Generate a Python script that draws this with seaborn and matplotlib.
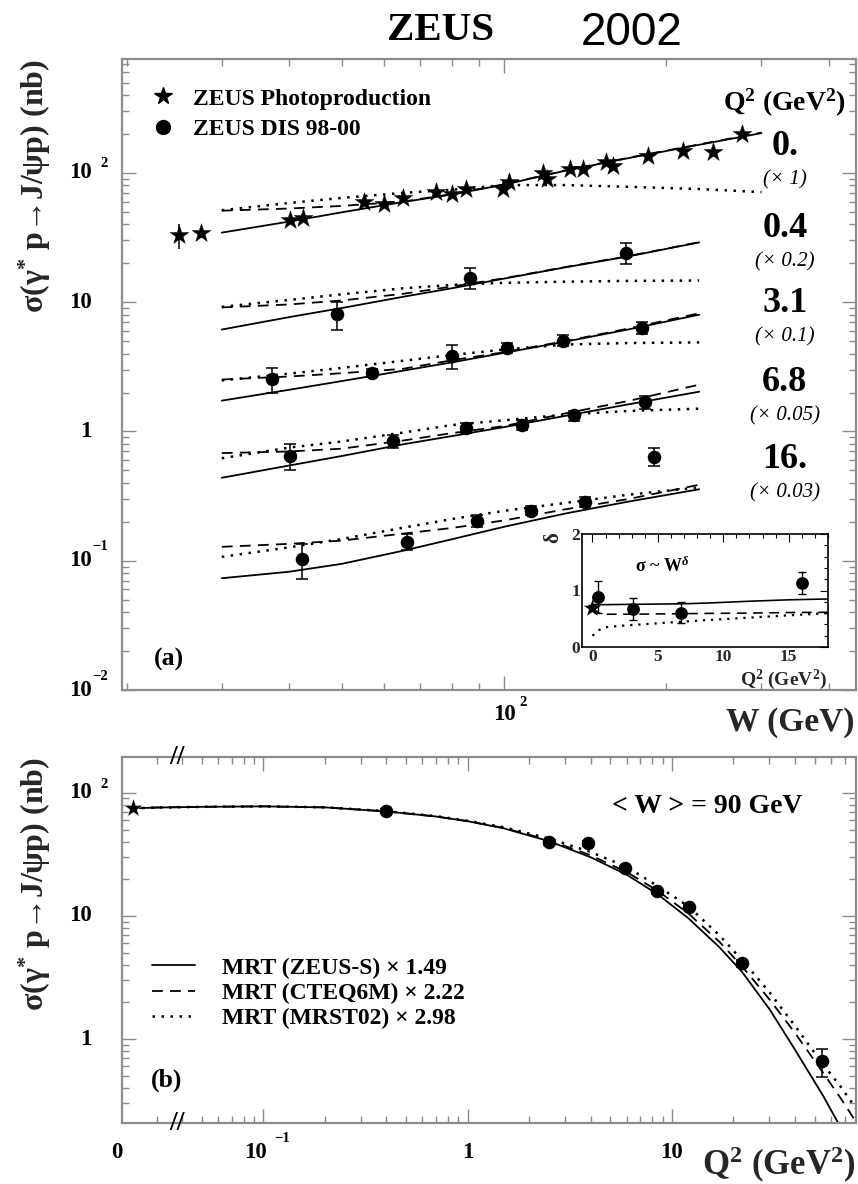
import numpy as np
import pandas as pd
import matplotlib
matplotlib.use("Agg")
import matplotlib.pyplot as plt
import seaborn as sns
from matplotlib.lines import Line2D
from matplotlib.ticker import LogLocator, NullFormatter, FixedLocator, MultipleLocator

# ------------------------------------------------------------------ data
# gamma p -> J/psi p photoproduction (Q^2 = 0); W in GeV, sigma in nb
W_PHP = [25.0, 27.5, 40.2, 42.5, 55.1, 60.0, 65.1, 74.8, 80.0, 85.1, 99.7, 102.3,
         118.2, 120.0, 132.5, 139.9, 154.5, 159.2, 184.8, 214.7, 244.2, 275.6]
SIG_PHP = [32.9, 34.5, 43.0, 44.6, 59.0, 57.2, 63.7, 71.3, 69.0, 74.8, 75.7, 85.2,
           98.9, 89.4, 106.8, 106.8, 120.4, 113.3, 134.0, 146.5, 145.6, 199.5]
ERR_PHP = [7.0, 3.0, 2.5, 2.5, 3.0, 3.0, 3.0, 3.5, 3.5, 3.5, 4.0, 4.0,
           5.0, 5.0, 5.0, 5.0, 6.0, 6.0, 7.0, 8.0, 8.0, 12.0]

# gamma* p -> J/psi p (DIS 98-00), unscaled sigma in nb per Q^2 bin
W_Q2_04 = [49.1, 86.5, 168.2]
SIG_Q2_04 = [40.2, 77.5, 121.0]
ERR_Q2_04 = [10.0, 14.0, 22.0]

W_Q2_31 = [37.1, 57.0, 80.0, 101.2, 128.5, 179.9]
SIG_Q2_31 = [25.5, 28.4, 38.6, 44.3, 50.5, 63.3]
ERR_Q2_31 = [5.7, 2.0, 8.0, 4.0, 5.0, 7.0]

W_Q2_68 = [40.2, 62.3, 84.9, 107.8, 134.8, 182.3]
SIG_Q2_68 = [13.0, 16.9, 21.4, 22.6, 26.6, 33.6]
ERR_Q2_68 = [3.0, 2.0, 2.0, 2.0, 2.4, 4.0]

W_Q2_16 = [42.3, 66.2, 89.0, 112.0, 141.0, 189.3]
SIG_Q2_16 = [3.43, 4.67, 6.80, 8.13, 9.57, 21.3]
ERR_Q2_16 = [1.03, 0.67, 0.67, 0.67, 0.83, 3.3]

Q2_LABELS = ["0.", "0.4", "3.1", "6.8", "16."]
SCALES = [1, 0.2, 0.1, 0.05, 0.03]

# MRT predictions versus W (unscaled, nb)
W_MODEL = [30, 40, 50, 65, 80, 100, 130, 170, 230]
W_MODEL_PHP = [30, 40, 50, 65, 80, 100, 130, 170, 230, 300]
ZEUSS_Q2_0 = [34.5, 42.0, 49.5, 59.5, 68.0, 81.0, 104.0, 130.0, 165.0, 203.0]
CTEQ_Q2_0 = [51.0, 53.0, 55.5, 60.0, 68.5, 81.5, 104.5, 131.0, 166.0, 205.0]
MRST_Q2_0 = [51.4, 58.5, 64.0, 70.0, 74.0, 80.5, 80.5, 78.0, 75.0, 71.0]

ZEUSS_Q2_04 = [30.7, 38.3, 45.0, 55.0, 64.0, 76.0, 93.0, 113.0, 145.0]
CTEQ_Q2_04 = [45.5, 48.0, 51.5, 58.0, 66.0, 76.5, 93.5, 113.5, 145.5]
MRST_Q2_04 = [46.0, 52.0, 57.5, 64.0, 68.0, 70.5, 72.0, 73.0, 73.5]

ZEUSS_Q2_31 = [17.3, 21.0, 24.5, 29.5, 34.2, 40.5, 49.5, 61.5, 80.0]
CTEQ_Q2_31 = [25.2, 26.6, 28.2, 30.5, 35.5, 41.0, 50.0, 62.5, 82.0]
MRST_Q2_31 = [24.8, 28.0, 31.0, 35.2, 39.0, 43.0, 47.0, 48.3, 48.8]

ZEUSS_Q2_68 = [8.76, 10.9, 12.9, 15.9, 18.4, 21.6, 26.4, 32.4, 40.6]
CTEQ_Q2_68 = [13.6, 14.0, 14.7, 17.0, 19.4, 22.0, 27.6, 34.4, 46.0]
MRST_Q2_68 = [12.4, 15.0, 16.7, 19.6, 22.4, 24.4, 27.0, 28.8, 30.0]

ZEUSS_Q2_16 = [2.44, 2.74, 3.15, 3.98, 4.88, 6.10, 7.73, 9.55, 11.9]
CTEQ_Q2_16 = [4.27, 4.50, 4.77, 5.40, 5.97, 6.83, 8.33, 10.0, 12.9]
MRST_Q2_16 = [3.57, 4.23, 4.90, 6.00, 7.00, 8.10, 9.33, 10.8, 12.3]

# fitted slope delta of sigma ~ W^delta
Q2_DELTA = [0.0, 0.4, 3.1, 6.8, 16.0]
DELTA = [0.69, 0.88, 0.67, 0.61, 1.13]
DELTA_ERR = [0.05, 0.28, 0.19, 0.19, 0.19]
Q2_DELTA_MODEL = [0.0, 0.5, 1.0, 3.0, 5.0, 7.0, 9.0, 12.0, 15.0, 18.0]
DELTA_ZEUSS = [0.75, 0.75, 0.75, 0.755, 0.76, 0.765, 0.78, 0.81, 0.835, 0.85]
DELTA_CTEQ = [0.69, 0.60, 0.58, 0.58, 0.585, 0.59, 0.595, 0.60, 0.61, 0.615]
DELTA_MRST = [0.20, 0.30, 0.35, 0.39, 0.42, 0.45, 0.48, 0.52, 0.56, 0.60]

# Q^2 dependence at <W> = 90 GeV
SIG_PHP_90 = 74.7
Q2_DIS_90 = [0.40, 2.5, 3.89, 5.88, 8.41, 12.1, 22.1, 54.2]
SIG_DIS_90 = [71.0, 39.6, 38.8, 24.3, 15.9, 11.7, 4.12, 0.664]
ERR_DIS_90 = [3.0, 2.0, 2.0, 1.2, 0.8, 0.6, 0.3, 0.17]
Q2_MODEL = [0.0, 0.03, 0.05, 0.1, 0.2, 0.4, 0.7, 1.0, 1.5, 2.5, 4.0, 6.0, 8.5,
            12.0, 17.0, 22.0, 30.0, 40.0, 55.0, 67.0, 80.0]
ZEUSS_Q2 = [74.7, 75.8, 76.8, 77.5, 76.0, 70.5, 64.1, 58.7, 51.4, 40.4, 29.9, 21.6,
            15.0, 9.6, 5.6, 3.52, 1.75, 0.82, 0.345, 0.191, 0.108]
CTEQ_Q2 = [74.7, 75.8, 76.8, 77.5, 76.0, 70.5, 64.1, 58.7, 51.8, 41.2, 31.0, 22.7,
           16.0, 10.5, 6.2, 3.9, 2.1, 1.12, 0.53, 0.33, 0.21]
MRST_Q2 = [74.7, 75.8, 76.8, 77.5, 76.2, 70.8, 64.5, 59.2, 52.5, 42.5, 33.0, 25.0,
           17.5, 12.0, 7.0, 4.4, 2.4, 1.28, 0.62, 0.41, 0.27]

MODEL_NAMES = ["ZEUS-S", "CTEQ6M", "MRST02"]
MODEL_NORMS = [1.49, 2.22, 2.98]

# ------------------------------------------------------------------ style
sns.set_theme(style="white")
plt.rcParams["font.family"] = ["Liberation Serif", "DejaVu Serif"]
plt.rcParams["font.weight"] = "bold"
plt.rcParams["mathtext.fontset"] = "custom"
plt.rcParams["mathtext.rm"] = "Liberation Serif:bold"
plt.rcParams["mathtext.bf"] = "Liberation Serif:bold"
plt.rcParams["mathtext.it"] = "Liberation Serif:bold:italic"
plt.rcParams["text.color"] = "black"

FRAME = "#8c8c8c"
LINE_STYLE = {"ZEUS-S": dict(linestyle="-", linewidth=1.3),
              "CTEQ6M": dict(linestyle=(0, (6, 4)), linewidth=1.3),
              "MRST02": dict(linestyle=(0, (1, 2.6)), linewidth=1.8)}
TICK_FS = 16.5


def style_frame(ax, color, lw, major, minor):
    for sp in ax.spines.values():
        sp.set_color(color)
        sp.set_linewidth(lw)
    ax.tick_params(which="both", direction="in", top=True, right=True,
                   bottom=True, left=True, color=color, width=1.0)
    ax.tick_params(which="major", length=major)
    ax.tick_params(which="minor", length=minor)


def axis_label(ax, axis, value, base, exp=None, base_off=(0, 0), exp_off=(0, 0),
               ha="center", exp_ha="left", size=TICK_FS, exp_size=10.5):
    if axis == "y":
        trans, xy = ax.get_yaxis_transform(), (0, value)
    else:
        trans, xy = ax.get_xaxis_transform(), (value, 0)
    ax.annotate(base, xy=xy, xycoords=trans, xytext=base_off,
                textcoords="offset pixels", ha=ha, va="center",
                fontsize=size, fontweight="bold", annotation_clip=False)
    if exp:
        ax.annotate(exp, xy=xy, xycoords=trans, xytext=exp_off,
                    textcoords="offset pixels", ha=exp_ha, va="center",
                    fontsize=exp_size, fontweight="bold", annotation_clip=False)


def curves_frame(x, series, unit0=0):
    rows = []
    for unit, (name, vals) in enumerate(series):
        for xv, yv in zip(x, vals):
            rows.append({"x": xv, "y": yv, "model": name, "unit": unit0 + unit})
    return pd.DataFrame(rows)


def draw_models(ax, df, width_scale=1.0):
    for name in MODEL_NAMES:
        sub = df[df["model"] == name]
        st = LINE_STYLE[name]
        sns.lineplot(data=sub, x="x", y="y", units="unit", estimator=None,
                     color="black", linestyle=st["linestyle"],
                     linewidth=st["linewidth"] * width_scale, sort=False,
                     legend=False, ax=ax)


fig = plt.figure(figsize=(8.58, 11.84), dpi=100)
fig.patch.set_facecolor("white")

# ------------------------------------------------------------------ panel (a)
ax = fig.add_axes([122 / 858, 1 - 690 / 1184, 734 / 858, 631 / 1184])
ax.set_xscale("log")
ax.set_yscale("log")
ax.set_xlim(19.6, 449)
ax.set_ylim(0.01, 760)

model_sets = [
    (W_MODEL_PHP, [ZEUSS_Q2_0, CTEQ_Q2_0, MRST_Q2_0]),
    (W_MODEL, [ZEUSS_Q2_04, CTEQ_Q2_04, MRST_Q2_04]),
    (W_MODEL, [ZEUSS_Q2_31, CTEQ_Q2_31, MRST_Q2_31]),
    (W_MODEL, [ZEUSS_Q2_68, CTEQ_Q2_68, MRST_Q2_68]),
    (W_MODEL, [ZEUSS_Q2_16, CTEQ_Q2_16, MRST_Q2_16]),
]
frames = []
for i, ((w, sets), scale) in enumerate(zip(model_sets, SCALES)):
    frames.append(curves_frame(w, [(n, np.array(v) * scale)
                                   for n, v in zip(MODEL_NAMES, sets)], unit0=10 * i))
draw_models(ax, pd.concat(frames, ignore_index=True))

# photoproduction stars
ax.errorbar(W_PHP, SIG_PHP, yerr=ERR_PHP, fmt="none", ecolor="black",
            elinewidth=1.1, capsize=0, zorder=2)
sns.scatterplot(x=W_PHP, y=SIG_PHP, marker="*", s=200, color="black",
                edgecolor="black", linewidth=0.3, zorder=3, ax=ax)

# DIS points
dis_sets = [(W_Q2_04, SIG_Q2_04, ERR_Q2_04), (W_Q2_31, SIG_Q2_31, ERR_Q2_31),
            (W_Q2_68, SIG_Q2_68, ERR_Q2_68), (W_Q2_16, SIG_Q2_16, ERR_Q2_16)]
for (w, s, e), scale in zip(dis_sets, SCALES[1:]):
    s = np.array(s) * scale
    e = np.array(e) * scale
    ax.errorbar(w, s, yerr=e, fmt="none", ecolor="black", elinewidth=1.1,
                capsize=4, capthick=1.1, zorder=2)
    sns.scatterplot(x=w, y=s, marker="o", s=95, color="black",
                    edgecolor="black", linewidth=0, zorder=3, ax=ax)

style_frame(ax, FRAME, 1.6, 10, 5)
ax.xaxis.set_major_locator(LogLocator(base=10))
ax.xaxis.set_minor_locator(LogLocator(base=10, subs=np.arange(2, 10)))
ax.yaxis.set_major_locator(LogLocator(base=10, numticks=12))
ax.yaxis.set_minor_locator(LogLocator(base=10, subs=np.arange(2, 10), numticks=12))
for a_ in (ax.xaxis, ax.yaxis):
    a_.set_major_formatter(NullFormatter())
    a_.set_minor_formatter(NullFormatter())

for v, base, exp in [(1e-2, "10", "\u22122"), (1e-1, "10", "\u22121"), (1, "1", None),
                     (10, "10", None), (100, "10", "2")]:
    up = 14 if exp and exp.startswith("\u2212") else 9
    axis_label(ax, "y", v, base, exp, base_off=(-30, 0), exp_off=(-14, up),
               ha="right", exp_ha="right")
axis_label(ax, "x", 100, "10", "2", base_off=(1, -24), exp_off=(15, -12))

ax.set_xlabel("W (GeV)", fontsize=24, fontweight="bold", loc="right")
ax.xaxis.set_label_coords(0.9986, -0.051)
ax.xaxis.label.set_va("center")
ax.set_ylabel("σ(γ$^{*}$ p→J/ψp) (nb)", fontsize=23, fontweight="bold", loc="top")
ax.yaxis.set_label_coords(-0.119, 1.0)
ax.yaxis.label.set_va("center")

ax.legend(handles=[
    Line2D([0], [0], marker="*", ls="none", color="black", markersize=13),
    Line2D([0], [0], marker="o", ls="none", color="black", markersize=10)],
    labels=["ZEUS Photoproduction", "ZEUS DIS 98-00"],
    loc="upper left", bbox_to_anchor=(0.0398, 0.954), frameon=False,
    borderpad=0, borderaxespad=0, handlelength=1.0, handletextpad=0.75,
    labelspacing=0.37, prop={"family": "Liberation Serif", "weight": "bold", "size": 17})

ax.text(0.903, 0.930, "Q$^{2}$ (GeV$^{2}$)", transform=ax.transAxes, ha="center",
        va="center", fontsize=20, fontweight="bold")
LABEL_Y = [0.862, 0.732, 0.612, 0.488, 0.366]
for lab, scale, y in zip(Q2_LABELS, SCALES, LABEL_Y):
    ax.text(0.903, y, lab, transform=ax.transAxes, ha="center", va="center",
            fontsize=26, fontweight="bold")
    ax.text(0.903, y - 0.053, f"(\u00d7 {scale:g})", transform=ax.transAxes,
            ha="center", va="center", fontsize=15, fontstyle="italic",
            fontweight="normal")
ax.text(0.044, 0.049, "(a)", transform=ax.transAxes, ha="left", va="center",
        fontsize=18.5, fontweight="bold")

# ------------------------------------------------------------------ inset
ax_in = fig.add_axes([582 / 858, 1 - 647 / 1184, 246 / 858, 113 / 1184])
ax_in.set_xlim(-0.8, 18)
ax_in.set_ylim(0, 2)
draw_models(ax_in, curves_frame(Q2_DELTA_MODEL, list(zip(
    MODEL_NAMES, [DELTA_ZEUSS, DELTA_CTEQ, DELTA_MRST]))), width_scale=0.9)
ax_in.errorbar(Q2_DELTA, DELTA, yerr=DELTA_ERR, fmt="none", ecolor="black",
               elinewidth=1.0, capsize=3, capthick=1.0, zorder=2)
sns.scatterplot(x=Q2_DELTA[:1], y=DELTA[:1], marker="*", s=170, color="black",
                linewidth=0, zorder=3, ax=ax_in)
sns.scatterplot(x=Q2_DELTA[1:], y=DELTA[1:], marker="o", s=85, color="black",
                linewidth=0, zorder=3, ax=ax_in)
for sp in ax_in.spines.values():
    sp.set_color("black")
    sp.set_linewidth(1.2)
ax_in.tick_params(which="both", direction="in", top=True, right=True,
                  color="black", width=0.8, labelsize=12.5, pad=1.5)
ax_in.tick_params(which="major", length=6)
ax_in.tick_params(which="minor", length=3)
ax_in.xaxis.set_major_locator(FixedLocator([0, 5, 10, 15]))
ax_in.xaxis.set_minor_locator(MultipleLocator(1))
ax_in.yaxis.set_major_locator(FixedLocator([0, 1, 2]))
ax_in.yaxis.set_minor_locator(MultipleLocator(0.2))
for t in ax_in.get_xticklabels() + ax_in.get_yticklabels():
    t.set_fontweight("bold")
ax_in.set_ylabel("δ", fontsize=15, fontweight="bold", loc="top")
ax_in.yaxis.set_label_coords(-0.118, 1.02)
ax_in.yaxis.label.set_va("center")
ax_in.set_xlabel("Q$^{2}$ (GeV$^{2}$)", fontsize=14, fontweight="bold", loc="right")
ax_in.xaxis.set_label_coords(0.995, -0.29)
ax_in.xaxis.label.set_va("center")
ax_in.text(0.215, 0.71, "σ ~ W$^{δ}$", transform=ax_in.transAxes, ha="left",
           va="center", fontsize=13, fontweight="bold")

# ------------------------------------------------------------------ panel (b)
Q2_ZERO_POS = 0.023  # where Q^2 = 0 sits on the broken log axis
bx = fig.add_axes([122 / 858, 1 - 1123 / 1184, 734 / 858, 366 / 1184])
bx.set_xscale("log")
bx.set_yscale("log")
bx.set_xlim(0.0203, 79.6)
bx.set_ylim(0.208, 195)

q2_pos = [Q2_ZERO_POS if q == 0 else q for q in Q2_MODEL]
draw_models(bx, curves_frame(q2_pos, list(zip(MODEL_NAMES,
                                              [ZEUSS_Q2, CTEQ_Q2, MRST_Q2]))))
bx.errorbar(Q2_DIS_90, SIG_DIS_90, yerr=ERR_DIS_90, fmt="none", ecolor="black",
            elinewidth=1.1, capsize=4, capthick=1.1, zorder=2)
sns.scatterplot(x=[Q2_ZERO_POS], y=[SIG_PHP_90], marker="*", s=200, color="black",
                linewidth=0.3, zorder=3, ax=bx)
sns.scatterplot(x=Q2_DIS_90, y=SIG_DIS_90, marker="o", s=95, color="black",
                linewidth=0, zorder=3, ax=bx)

style_frame(bx, FRAME, 1.6, 10, 5)
bx.xaxis.set_major_locator(FixedLocator([0.1, 1, 10]))
bx.xaxis.set_minor_locator(LogLocator(base=10, subs=np.arange(2, 10), numticks=12))
bx.yaxis.set_major_locator(FixedLocator([1, 10, 100]))
bx.yaxis.set_minor_locator(LogLocator(base=10, subs=np.arange(2, 10), numticks=12))
for a_ in (bx.xaxis, bx.yaxis):
    a_.set_major_formatter(NullFormatter())
    a_.set_minor_formatter(NullFormatter())
for v, base, exp in [(1, "1", None), (10, "10", None), (100, "10", "2")]:
    axis_label(bx, "y", v, base, exp, base_off=(-30, 0), exp_off=(-14, 8),
               ha="right", exp_ha="right")
axis_label(bx, "x", 0.0203, "0", base_off=(-5, -30))
axis_label(bx, "x", 0.1, "10", "\u22121", base_off=(-8, -30), exp_off=(11, -15))
axis_label(bx, "x", 1, "1", base_off=(0, -30))
axis_label(bx, "x", 10, "10", base_off=(0, -30))
for yb in (1.0, 0.0):
    bx.text(0.075, yb, "//", transform=bx.transAxes, ha="center", va="center",
            fontsize=20, fontweight="bold", clip_on=False)

bx.set_xlabel("Q$^{2}$ (GeV$^{2}$)", fontsize=25, fontweight="bold", loc="right")
bx.xaxis.set_label_coords(0.9986, -0.115)
bx.xaxis.label.set_va("center")
bx.set_ylabel("σ(γ$^{*}$ p→J/ψp) (nb)", fontsize=23, fontweight="bold", loc="top")
bx.yaxis.set_label_coords(-0.119, 1.0)
bx.yaxis.label.set_va("center")

bx.text(0.667, 0.866, "< W > = 90 GeV", transform=bx.transAxes, ha="left",
        va="center", fontsize=20, fontweight="bold")
bx.text(0.04, 0.117, "(b)", transform=bx.transAxes, ha="left", va="center",
        fontsize=18.5, fontweight="bold")

leg_handles = [Line2D([0], [0], color="black", **LINE_STYLE[n]) for n in MODEL_NAMES]
leg_labels = [f"MRT ({n}) \u00d7 {k:.2f}" for n, k in zip(MODEL_NAMES, MODEL_NORMS)]
bx.legend(handles=leg_handles, labels=leg_labels, loc="upper left",
          bbox_to_anchor=(0.041, 0.453), frameon=False, borderpad=0,
          borderaxespad=0, handlelength=1.82, handletextpad=1.14, labelspacing=0.15,
          prop={"family": "Liberation Serif", "weight": "bold", "size": 17})

# ------------------------------------------------------------------ titles
fig.text(441 / 858, 1 - 40 / 1184, "ZEUS", ha="center", va="baseline",
         fontsize=29.5, fontweight="bold", family="Liberation Serif")
fig.text(632 / 858, 1 - 45 / 1184, "2002", ha="center", va="baseline",
         fontsize=33, fontweight="normal", family="Liberation Sans")

fig.savefig("out.png", dpi=100)
